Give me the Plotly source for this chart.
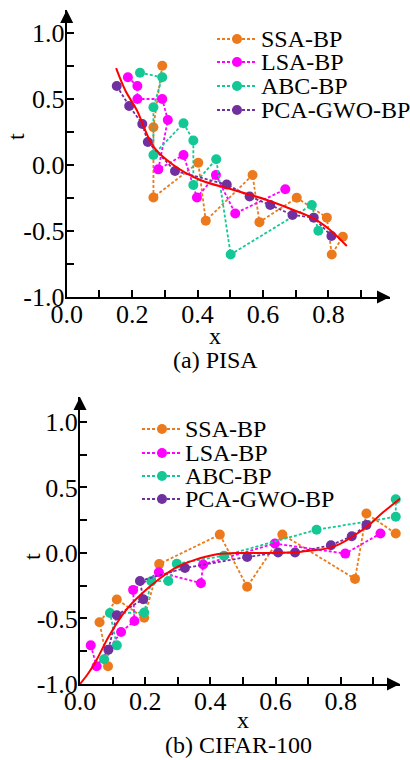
import plotly.graph_objects as go

W, H = 410, 760
FONT = "Liberation Serif"

names = ["SSA-BP", "LSA-BP", "ABC-BP", "PCA-GWO-BP"]
colors = ["#EC7A1C", "#FF00FF", "#14C896", "#7030A0"]
fit_color = "#FF0000"

# ---------------- (a) PISA ----------------
a_ssa_x = [0.292, 0.265, 0.265, 0.402, 0.425, 0.568, 0.589, 0.703, 0.795, 0.810, 0.844]
a_ssa_t = [0.752, 0.286, -0.246, 0.017, -0.423, -0.076, -0.433, -0.248, -0.399, -0.678, -0.543]
a_lsa_x = [0.187, 0.216, 0.216, 0.292, 0.309, 0.280, 0.357, 0.398, 0.456, 0.515, 0.668]
a_lsa_t = [0.664, 0.598, 0.500, 0.500, 0.341, -0.033, 0.076, -0.246, -0.076, -0.367, -0.184]
a_abc_x = [0.224, 0.292, 0.265, 0.265, 0.357, 0.387, 0.387, 0.457, 0.501, 0.749, 0.769]
a_abc_t = [0.699, 0.664, 0.437, 0.076, 0.316, 0.186, -0.152, 0.043, -0.678, -0.303, -0.498]
a_pca_x = [0.153, 0.191, 0.231, 0.248, 0.331, 0.489, 0.559, 0.622, 0.690, 0.755, 0.809]
a_pca_t = [0.598, 0.447, 0.311, 0.174, -0.045, -0.148, -0.239, -0.303, -0.379, -0.399, -0.538]
a_fit_x = [0.151, 0.180, 0.214, 0.265, 0.326, 0.408, 0.510, 0.612, 0.693, 0.754, 0.805, 0.856]
a_fit_t = [0.733, 0.560, 0.417, 0.139, 0.000, -0.114, -0.189, -0.265, -0.341, -0.404, -0.492, -0.614]

# ---------------- (b) CIFAR-100 ----------------
b_ssa_x = [0.086, 0.060, 0.113, 0.197, 0.243, 0.429, 0.513, 0.621, 0.844, 0.879, 0.969]
b_ssa_t = [-0.865, -0.529, -0.355, -0.495, -0.085, 0.140, -0.258, 0.141, -0.198, 0.301, 0.148]
b_lsa_x = [0.033, 0.051, 0.126, 0.167, 0.163, 0.242, 0.371, 0.378, 0.598, 0.814, 0.922]
b_lsa_t = [-0.705, -0.865, -0.603, -0.519, -0.282, -0.147, -0.231, -0.088, 0.072, -0.005, 0.148]
b_abc_x = [0.074, 0.113, 0.092, 0.197, 0.219, 0.271, 0.297, 0.442, 0.726, 0.969, 0.969]
b_abc_t = [-0.811, -0.705, -0.458, -0.455, -0.216, -0.214, -0.082, -0.021, 0.177, 0.276, 0.410]
b_pca_x = [0.087, 0.113, 0.194, 0.184, 0.322, 0.513, 0.608, 0.660, 0.770, 0.834, 0.879]
b_pca_t = [-0.738, -0.475, -0.353, -0.214, -0.115, -0.031, 0.003, 0.003, 0.059, 0.127, 0.214]
b_fit_x = [0.0, 0.025, 0.05, 0.09, 0.14, 0.19, 0.245, 0.30, 0.35, 0.42, 0.50, 0.58, 0.68, 0.78, 0.88, 0.93, 0.99]
b_fit_t = [-1.0, -0.92, -0.82, -0.63, -0.44, -0.31, -0.195, -0.105, -0.055, -0.01, 0.0, 0.0, 0.01, 0.05, 0.20, 0.31, 0.43]

x_tickvals = [0.0, 0.1, 0.2, 0.3, 0.4, 0.5, 0.6, 0.7, 0.8, 0.9]
x_ticktext = ["0.0", "", "0.2", "", "0.4", "", "0.6", "", "0.8", ""]
y_tickvals = [-1.0, -0.75, -0.5, -0.25, 0.0, 0.25, 0.5, 0.75, 1.0]
y_ticktext = ["-1.0", "", "-0.5", "", "0.0", "", "0.5", "", "1.0"]

panels = [
    dict(xa="x", ya="y", series=[(a_ssa_x, a_ssa_t), (a_lsa_x, a_lsa_t), (a_abc_x, a_abc_t), (a_pca_x, a_pca_t)],
         fit=(a_fit_x, a_fit_t)),
    dict(xa="x2", ya="y2", series=[(b_ssa_x, b_ssa_t), (b_lsa_x, b_lsa_t), (b_abc_x, b_abc_t), (b_pca_x, b_pca_t)],
         fit=(b_fit_x, b_fit_t)),
]

fig = go.Figure()
dash = "3px,2px"
for p in panels:
    for (xs, ts), c, n in zip(p["series"], colors, names):
        fig.add_trace(go.Scatter(x=xs, y=ts, mode="lines+markers", name=n, showlegend=False,
                                 line=dict(color=c, width=1.8, dash=dash),
                                 marker=dict(color=c, size=10),
                                 xaxis=p["xa"], yaxis=p["ya"], cliponaxis=False))
    fig.add_trace(go.Scatter(x=p["fit"][0], y=p["fit"][1], mode="lines", showlegend=False,
                             line=dict(color=fit_color, width=2, shape="spline"),
                             xaxis=p["xa"], yaxis=p["ya"]))

# custom legends (pixel overlay axis)
legend_layout = [
    dict(x0=217, x1=257, xt=259, rows=[39, 62, 86, 110]),
    dict(x0=142, x1=182, xt=183, rows=[429, 453, 476, 499]),
]
annotations = []
for lg in legend_layout:
    for n, c, r in zip(names, colors, lg["rows"]):
        fig.add_trace(go.Scatter(x=[lg["x0"], lg["x1"]], y=[r, r], mode="lines", showlegend=False,
                                 line=dict(color=c, width=1.8, dash=dash), xaxis="x3", yaxis="y3",
                                 hoverinfo="skip"))
        fig.add_trace(go.Scatter(x=[(lg["x0"] + lg["x1"]) / 2], y=[r], mode="markers", showlegend=False,
                                 marker=dict(color=c, size=10), xaxis="x3", yaxis="y3", hoverinfo="skip"))
        annotations.append(dict(x=lg["xt"] / W, y=1 - r / H, xref="paper", yref="paper", text=n,
                                showarrow=False, xanchor="left", yanchor="middle",
                                font=dict(family=FONT, size=24, color="black")))

def ax_common(**kw):
    d = dict(showgrid=False, zeroline=False, showline=True, linecolor="black", linewidth=2,
             ticks="inside", ticklen=7, tickwidth=1.5, tickcolor="black", automargin=False,
             tickfont=dict(family=FONT, size=26, color="black"), mirror=False)
    d.update(kw)
    return d

fig.update_layout(
    template="none",
    font=dict(family=FONT, size=24, color="black"),
    width=W, height=H, margin=dict(l=0, r=0, t=0, b=0, pad=0, autoexpand=False),
    paper_bgcolor="white", plot_bgcolor="rgba(0,0,0,0)",
    xaxis=ax_common(domain=[66.7 / W, 390 / W], range=[0, 0.988], anchor="y",
                    tickvals=x_tickvals, ticktext=x_ticktext, ticklabelstandoff=-7),
    yaxis=ax_common(domain=[1 - 297 / H, 1 - 10 / H], range=[-1, 1.174], anchor="x",
                    tickvals=y_tickvals, ticktext=y_ticktext, ticklabelstandoff=-5),
    xaxis2=ax_common(domain=[80 / W, 400 / W], range=[0, 0.982], anchor="y2",
                     tickvals=x_tickvals, ticktext=x_ticktext, ticklabelstandoff=-7),
    yaxis2=ax_common(domain=[1 - 684 / H, 1 - 397 / H], range=[-1, 1.19], anchor="x2",
                     tickvals=y_tickvals, ticktext=y_ticktext, ticklabelstandoff=-5),
    xaxis3=dict(domain=[0, 1], range=[0, W], visible=False, anchor="y3", fixedrange=True, automargin=False),
    yaxis3=dict(domain=[0, 1], range=[H, 0], visible=False, anchor="x3", fixedrange=True, automargin=False),
    showlegend=False,
)

def txt(x, y, s, angle=0, size=24):
    return dict(x=x / W, y=1 - y / H, xref="paper", yref="paper", text=s, showarrow=False,
                xanchor="center", yanchor="middle", textangle=angle,
                font=dict(family=FONT, size=size, color="black"))

annotations += [
    txt(215, 336, "x"), txt(16, 137, "t", angle=-90), txt(215, 360, "(a) PISA"),
    txt(243, 720, "x"), txt(32, 557, "t", angle=-90), txt(239, 745, "(b) CIFAR-100"),
]
# axis arrowheads
for xa, ya in [("x", "y"), ("x2", "y2")]:
    annotations.append(dict(x=1, y=0, xref=f"{xa} domain", yref=f"{ya} domain", ax=-14, ay=0,
                            showarrow=True, arrowhead=2, arrowsize=1.3, arrowwidth=2, arrowcolor="black", text=""))
    annotations.append(dict(x=0, y=1, xref=f"{xa} domain", yref=f"{ya} domain", ax=0, ay=14,
                            showarrow=True, arrowhead=2, arrowsize=1.3, arrowwidth=2, arrowcolor="black", text=""))
fig.update_layout(annotations=annotations)

fig.write_html("out.html", config={"displayModeBar": False},
               post_script="document.body.style.margin='0';document.body.style.padding='0';"
                           "document.documentElement.style.overflow='hidden';")
